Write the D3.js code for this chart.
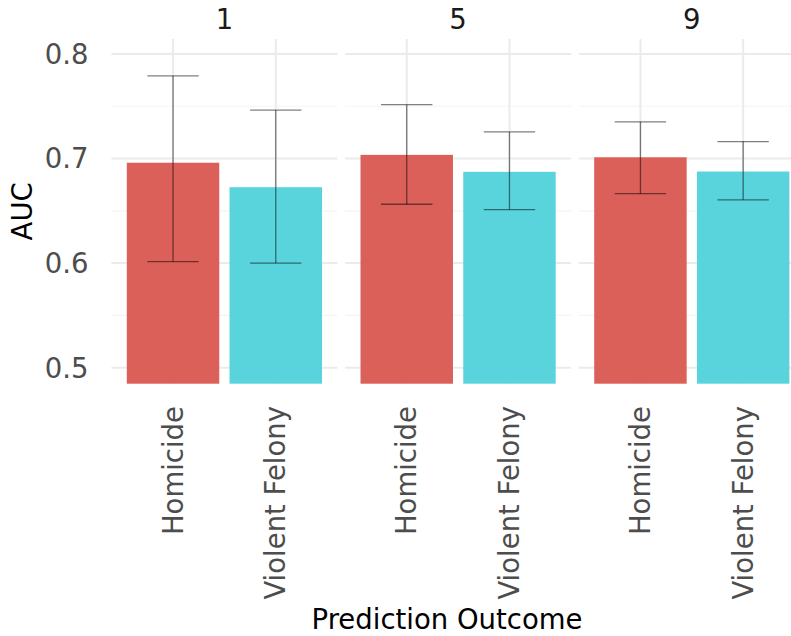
<!DOCTYPE html>
<html>
<head>
<meta charset="utf-8">
<script src="https://cdn.jsdelivr.net/npm/d3@7"></script>
<style>
    body { margin: 0; background: #fff; }
    svg { display: block; font-family: "DejaVu Sans", sans-serif; }
</style>
</head>
<body>
<div id="chart"></div>
<script>
// Facets (window) and outcome categories
const windows = ["1", "5", "9"];
const outcomes = ["Homicide", "Violent Felony"];

// AUC per facet, one value per outcome
const auc = [
    [0.696, 0.6726],
    [0.7035, 0.6873],
    [0.7012, 0.6876]
];
const aucLower = [
    [0.6015, 0.600],
    [0.6563, 0.6512],
    [0.6665, 0.6605]
];
const aucUpper = [
    [0.779, 0.7462],
    [0.7515, 0.7254],
    [0.735, 0.7162]
];

const yTicks = [0.5, 0.6, 0.7, 0.8];
const yMinor = [0.55, 0.65, 0.75];
const colors = ["#DB6059", "#59D4DC"];

const width = 791, height = 636;
const fontSize = 27.5;
const panel = {left: 111.4, width: 226, gap: 7.7, top: 39, bottom: 383.7};

const svg = d3.select("#chart")
    .append("svg")
    .attr("width", width)
    .attr("height", height);

const y = d3.scaleLinear()
    .domain([0.4847, 0.8143])
    .range([panel.bottom, panel.top]);

const fx = d3.scaleBand()
    .domain(windows)
    .range([panel.left, panel.left + 3 * panel.width + 2 * panel.gap])
    .paddingInner(panel.gap / (panel.width + panel.gap));

const x = d3.scalePoint()
    .domain(outcomes)
    .range([0, panel.width])
    .padding(0.6);
const step = x.step();

windows.forEach((w, wi) => {
    const g = svg.append("g")
        .attr("transform", `translate(${fx(w)},0)`);

    // minor grid
    g.append("g").selectAll("line")
        .data(yMinor)
        .join("line")
        .attr("x1", 0).attr("x2", panel.width)
        .attr("y1", d => y(d)).attr("y2", d => y(d))
        .attr("stroke", "#F4F4F4")
        .attr("stroke-width", 1.2);

    // major grid
    g.append("g").selectAll("line")
        .data(yTicks)
        .join("line")
        .attr("x1", 0).attr("x2", panel.width)
        .attr("y1", d => y(d)).attr("y2", d => y(d))
        .attr("stroke", "#EBEBEB")
        .attr("stroke-width", 2);

    g.append("g").selectAll("line")
        .data(outcomes)
        .join("line")
        .attr("x1", d => x(d)).attr("x2", d => x(d))
        .attr("y1", panel.top).attr("y2", panel.bottom)
        .attr("stroke", "#EBEBEB")
        .attr("stroke-width", 2);

    // bars
    g.append("g").selectAll("rect")
        .data(outcomes)
        .join("rect")
        .attr("x", d => x(d) - step * 0.45)
        .attr("width", step * 0.9)
        .attr("y", (d, i) => y(auc[wi][i]))
        .attr("height", (d, i) => y.range()[0] - y(auc[wi][i]))
        .attr("fill", (d, i) => colors[i]);

    // error bars
    const eb = g.append("g")
        .attr("stroke", "rgba(0,0,0,0.5)")
        .attr("stroke-width", 1.3)
        .selectAll("g")
        .data(outcomes)
        .join("g");

    eb.append("line")
        .attr("x1", d => x(d)).attr("x2", d => x(d))
        .attr("y1", (d, i) => y(aucLower[wi][i]))
        .attr("y2", (d, i) => y(aucUpper[wi][i]));
    eb.append("line")
        .attr("x1", d => x(d) - step * 0.25).attr("x2", d => x(d) + step * 0.25)
        .attr("y1", (d, i) => y(aucLower[wi][i]))
        .attr("y2", (d, i) => y(aucLower[wi][i]));
    eb.append("line")
        .attr("x1", d => x(d) - step * 0.25).attr("x2", d => x(d) + step * 0.25)
        .attr("y1", (d, i) => y(aucUpper[wi][i]))
        .attr("y2", (d, i) => y(aucUpper[wi][i]));

    // strip label
    g.append("text")
        .attr("x", panel.width / 2)
        .attr("y", 29)
        .attr("text-anchor", "middle")
        .attr("font-size", fontSize)
        .attr("fill", "#1A1A1A")
        .text(w);

    // x tick labels
    g.append("g").selectAll("text")
        .data(outcomes)
        .join("text")
        .attr("transform", d => `translate(${x(d)},406) rotate(-90)`)
        .attr("dy", "0.35em")
        .attr("text-anchor", "end")
        .attr("font-size", fontSize)
        .attr("fill", "#4D4D4D")
        .text(d => d);
});

// y tick labels
svg.append("g").selectAll("text")
    .data(yTicks)
    .join("text")
    .attr("x", 88.5)
    .attr("y", d => y(d))
    .attr("dy", "0.36em")
    .attr("text-anchor", "end")
    .attr("font-size", fontSize)
    .attr("fill", "#4D4D4D")
    .text(d => d3.format(".1f")(d));

// axis titles
svg.append("text")
    .attr("transform", `translate(22,${(panel.top + panel.bottom) / 2}) rotate(-90)`)
    .attr("dy", "0.36em")
    .attr("text-anchor", "middle")
    .attr("font-size", fontSize)
    .attr("fill", "#000")
    .text("AUC");

svg.append("text")
    .attr("x", 447)
    .attr("y", 629)
    .attr("text-anchor", "middle")
    .attr("font-size", fontSize)
    .attr("fill", "#000")
    .text("Prediction Outcome");
</script>
</body>
</html>
